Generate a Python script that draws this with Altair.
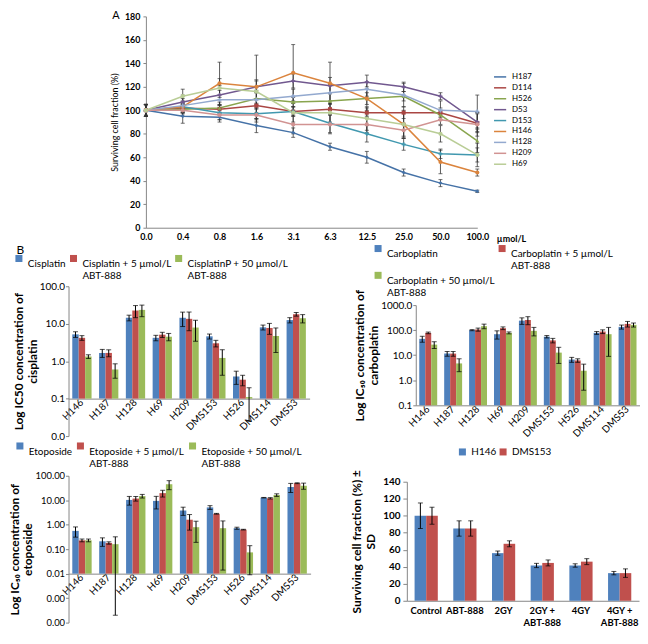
import math
import altair as alt
import pandas as pd

FONT = "Lato"
BLUE, RED, GREEN = "#4F81BD", "#C0504D", "#9BBB59"

# ---------------- Panel A data ----------------
conc = ["0.0", "0.4", "0.8", "1.6", "3.1", "6.3", "12.5", "25.0", "50.0", "100.0"]
series_a = ["H187", "D114", "H526", "D53", "D153", "H146", "H128", "H209", "H69"]
colors_a = ["#4572A7", "#AA4643", "#89A54E", "#71588F", "#4198AF",
            "#DB843D", "#93A9CF", "#D19392", "#B9CD96"]
shapes_a = ["diamond", "square", "triangle-up", "cross", "cross",
            "circle", "cross", "circle", "circle"]
sizes_a = [16, 18, 18, 16, 16, 18, 16, 0, 0]

val_H187 = [100, 95, 94, 87, 81, 69, 60, 47, 38, 31]
val_D114 = [100, 102, 101, 104, 99, 101, 98, 98, 98, 89]
val_H526 = [100, 101, 102, 110, 107, 108, 110, 112, 96, 74]
val_D53 = [100, 107, 113, 120, 125, 121, 124, 120, 112, 90]
val_D153 = [100, 103, 98, 97, 99, 89, 80, 71, 63, 62]
val_H146 = [100, 103, 123, 120, 132, 123, 110, 88, 56, 47]
val_H128 = [100, 104, 109, 109, 112, 115, 118, 113, 100, 99]
val_H209 = [100, 100, 96, 96, 88, 88, 88, 83, 92, 88]
val_H69 = [100, 112, 119, 116, 98, 98, 93, 88, 80, 62]

err_H187 = [4, 6, 2, 6, 4, 3, 5, 3, 3, 1]
err_D114 = [5, 4, 3, 6, 4, 5, 4, 5, 4, 8]
err_H526 = [5, 4, 5, 5, 4, 7, 5, 4, 4, 10]
err_D53 = [5, 6, 8, 5, 6, 7, 6, 4, 3, 8]
err_D153 = [5, 4, 6, 5, 4, 8, 7, 5, 4, 6]
err_H146 = [5, 5, 18, 27, 24, 18, 10, 12, 10, 3]
err_H128 = [5, 6, 8, 8, 6, 7, 6, 10, 8, 14]
err_H209 = [5, 5, 6, 6, 8, 8, 7, 6, 4, 10]
err_H69 = [5, 6, 8, 10, 8, 8, 10, 10, 7, 10]

vals_a = [val_H187, val_D114, val_H526, val_D53, val_D153, val_H146, val_H128, val_H209, val_H69]
errs_a = [err_H187, err_D114, err_H526, err_D53, err_D153, err_H146, err_H128, err_H209, err_H69]

# ---------------- Panel B data ----------------
cell_lines = ["H146", "H187", "H128", "H69", "H209", "DMS153", "H526", "DMS114", "DMS53"]

cis_treat = ["Cisplatin", "Cisplatin + 5 µmol/L|ABT-888", "CisplatinP + 50 µmol/L|ABT-888"]
cis_v0 = [5.2, 1.66, 14.4, 4.2, 14.4, 4.6, 0.39, 8.0, 12.5]
cis_v5 = [4.2, 1.66, 22.5, 5.1, 13.5, 3.0, 0.32, 7.7, 17.9]
cis_v50 = [1.33, 0.6, 23.4, 4.5, 7.9, 1.22, 0.11, 4.7, 14.0]
cis_e0 = [0.9, 0.4, 2.5, 0.7, 6, 0.7, 0.15, 1.2, 2]
cis_e5 = [0.6, 0.35, 8, 0.8, 7, 0.6, 0.1, 2.5, 2]
cis_e50 = [0.15, 0.25, 8, 1, 4.5, 0.8, 0.085, 3, 3.5]

carbo_treat = ["Carboplatin", "Carboplatin + 5 µmol/L|ABT-888", "Carboplatin + 50 µmol/L|ABT-888"]
carbo_v0 = [45, 11.6, 100, 69, 240, 55, 6.7, 78, 135]
carbo_v5 = [78, 11.6, 106, 120, 255, 39, 6.2, 88, 178]
carbo_v50 = [26.5, 4.7, 144, 78, 94, 12.7, 2.4, 69, 163]
carbo_e0 = [12, 2.5, 5, 25, 70, 6, 1.5, 10, 25]
carbo_e5 = [6, 2.5, 15, 15, 90, 8, 1, 15, 45]
carbo_e50 = [8, 2.5, 30, 7, 35, 8, 2, 60, 30]

eto_treat = ["Etoposide", "Etoposide + 5 µmol/L|ABT-888", "Etoposide + 50 µmol/L|ABT-888"]
eto_v0 = [0.56, 0.21, 10.3, 9.4, 3.8, 5.1, 0.72, 12.7, 34.7]
eto_v5 = [0.23, 0.18, 11.7, 19.5, 1.6, 2.8, 0.63, 12.0, 49.7]
eto_v50 = [0.23, 0.16, 14.8, 45, 0.79, 0.72, 0.074, 16.3, 39]
eto_e0 = [0.25, 0.08, 4, 5, 1.4, 0.9, 0.07, 0.3, 14]
eto_e5 = [0.03, 0.02, 2.5, 6, 1, 0.1, 0.02, 0.8, 2]
eto_e50 = [0.03, 0.1598, 2.5, 18, 0.6, 0.706, 0.065, 2, 11]

rad_cats = ["Control", "ABT-888", "2GY", "2GY + ABT-888", "4GY", "4GY + ABT-888"]
rad_lines = ["H146", "DMS153"]
rad_h146 = [100, 85, 56, 41.5, 41.5, 32.5]
rad_dms153 = [100, 85, 67, 44.5, 46, 32.5]
rad_e_h146 = [15, 9, 2.5, 2.5, 2, 2]
rad_e_dms153 = [10, 9, 3.5, 3.5, 3.5, 5]

# legend square drawn level with the first line of a two-line label
SYM_UP = "M-1,-2.7L1,-2.7L1,-0.7L-1,-0.7Z"
TWO_LINE = "[split(datum.label, '|')[0], length(split(datum.label, '|')) > 1 ? split(datum.label, '|')[1] : '']"


def spacer(w, h):
    return alt.Chart(pd.DataFrame({"s": [0]})).mark_point(opacity=0).encode(
        x=alt.X("s:Q", axis=None), y=alt.Y("s:Q", axis=None)
    ).properties(width=w, height=h)


# ---------------- Panel A chart ----------------
rows = []
for s, vs, es in zip(series_a, vals_a, errs_a):
    for i, (c, v, e) in enumerate(zip(conc, vs, es)):
        rows.append(dict(series=s, marker=s, conc=c, idx=i, value=v, lo=v - e, hi=v + e))
df_a = pd.DataFrame(rows)

xa_axis = alt.Axis(title="µmol/L", titleX=368, titleY=14, titleAlign="center",
                   titleBaseline="alphabetic", titleFontSize=9, titleFontWeight="bold",
                   labelAngle=0, labelFontSize=9, labelFontWeight="bold", ticks=False,
                   labelPadding=5, domainColor="#868686")
xa = alt.X("conc:N", sort=conc, scale=alt.Scale(type="point", padding=0), axis=xa_axis)
ya_scale = alt.Scale(domain=[0, 180], nice=False)
ya_axis = alt.Axis(title="Surviving cell fraction (%)", values=list(range(0, 181, 20)),
                   labelFontSize=9, labelFontWeight="bold", titleFontSize=9,
                   titleFontWeight="normal", tickSize=3, labelPadding=3, titlePadding=5,
                   grid=False, domainColor="#868686", tickColor="#868686")

base_a = alt.Chart(df_a)
lines_a = base_a.mark_line(strokeWidth=1.5).encode(
    x=xa,
    y=alt.Y("value:Q", scale=ya_scale, axis=ya_axis),
    color=alt.Color("series:N", sort=series_a,
                    scale=alt.Scale(domain=series_a, range=colors_a),
                    legend=alt.Legend(title=None, orient="none", legendX=350, legendY=54,
                                      symbolType="stroke", symbolSize=150, padding=0,
                                      symbolStrokeWidth=1.5, labelFontSize=8,
                                      rowPadding=0, labelOffset=5)),
    order=alt.Order("idx:Q"),
)
err_a = base_a.mark_rule(color="#333333", strokeWidth=0.8).encode(
    x=xa, y=alt.Y("lo:Q", scale=ya_scale, axis=ya_axis), y2="hi:Q")
caplo_a = base_a.mark_tick(orient="horizontal", size=4, thickness=1, color="#333333").encode(
    x=xa, y=alt.Y("lo:Q", scale=ya_scale, axis=ya_axis))
caphi_a = base_a.mark_tick(orient="horizontal", size=4, thickness=1, color="#333333").encode(
    x=xa, y=alt.Y("hi:Q", scale=ya_scale, axis=ya_axis))
pts_a = base_a.mark_point(filled=True, opacity=1).encode(
    x=xa,
    y=alt.Y("value:Q", scale=ya_scale, axis=ya_axis),
    fill=alt.Fill("marker:N", scale=alt.Scale(domain=series_a, range=colors_a), legend=None),
    shape=alt.Shape("marker:N", scale=alt.Scale(domain=series_a, range=shapes_a), legend=None),
    size=alt.Size("marker:N", scale=alt.Scale(domain=series_a, range=sizes_a), legend=None),
)
label_df = pd.DataFrame({"panel": ["A"], "conc": ["0.0"], "value": [180]})
panel_a_label = alt.Chart(label_df).mark_text(
    fontSize=11, dx=-34, dy=0, align="left", baseline="middle", color="black"
).encode(text="panel:N", x=xa, y=alt.Y("value:Q", scale=ya_scale, axis=ya_axis))
chart_a = alt.layer(err_a, caplo_a, caphi_a, lines_a, pts_a, panel_a_label).properties(
    width=334, height=213)
row1 = alt.hconcat(spacer(42, 1), chart_a, spacing=0).resolve_scale(color="independent")


# ---------------- Panel B helpers ----------------
def log_bars(treats, vals, errs, ytitle, domain, tickvals, fmt, base, width, height,
             lx, ly, cols, colpad, ylabsize, panel=None):
    rws = []
    for t, vs, es in zip(treats, vals, errs):
        for c, v, e in zip(cell_lines, vs, es):
            rws.append(dict(line=c, treat=t, value=v, lo=max(v - e, domain[0]), hi=v + e))
    df = pd.DataFrame(rws)
    span = math.log10(domain[1]) - math.log10(domain[0])
    off = height * (math.log10(base) - math.log10(domain[0])) / span
    xaxis = alt.Axis(title=None, labelAngle=-45, labelAlign="right", labelBaseline="middle",
                     offset=-off, ticks=False, labelFontSize=10, labelPadding=2,
                     domainColor="#868686")
    xenc = alt.X("line:N", sort=cell_lines,
                 scale=alt.Scale(paddingInner=0.28, paddingOuter=0.14), axis=xaxis)
    xoff = alt.XOffset("treat:N", sort=treats, scale=alt.Scale(domain=treats))
    yscale = alt.Scale(type="log", domain=domain, nice=False)
    yaxis = alt.Axis(title=ytitle, values=tickvals, format=fmt, grid=False,
                     labelFontSize=ylabsize, titleFontSize=12, titleFontWeight="bold",
                     tickSize=3, labelPadding=1, titlePadding=0,
                     domainColor="#868686", tickColor="#868686")
    leg = alt.Legend(title=None, orient="none", legendX=lx, legendY=ly, direction="horizontal",
                     columns=cols, symbolType=SYM_UP, symbolSize=50, symbolStrokeWidth=0,
                     labelFontSize=10, labelExpr=TWO_LINE, columnPadding=colpad,
                     rowPadding=0, labelLimit=300, labelOffset=4, padding=0)
    b = alt.Chart(df)
    bars = b.mark_bar().encode(
        x=xenc, xOffset=xoff,
        y=alt.Y("value:Q", scale=yscale, axis=yaxis), y2=alt.datum(base),
        color=alt.Color("treat:N", sort=treats,
                        scale=alt.Scale(domain=treats, range=[BLUE, RED, GREEN]), legend=leg),
    )
    rule = b.mark_rule(color="black", strokeWidth=1).encode(
        x=xenc, xOffset=xoff, y=alt.Y("lo:Q", scale=yscale, axis=yaxis), y2="hi:Q")
    clo = b.mark_tick(orient="horizontal", size=5, thickness=1, color="black").encode(
        x=xenc, xOffset=xoff, y=alt.Y("lo:Q", scale=yscale, axis=yaxis))
    chi = b.mark_tick(orient="horizontal", size=5, thickness=1, color="black").encode(
        x=xenc, xOffset=xoff, y=alt.Y("hi:Q", scale=yscale, axis=yaxis))
    layers = [bars, rule, clo, chi]
    if panel:
        pdf = pd.DataFrame({"panel": [panel], "line": [cell_lines[0]], "value": [domain[1]]})
        layers.append(alt.Chart(pdf).mark_text(
            fontSize=12, dx=-66, dy=-37, align="left", baseline="middle", color="black"
        ).encode(text="panel:N", x=xenc, y=alt.Y("value:Q", scale=yscale, axis=yaxis)))
    return alt.layer(*layers).properties(width=width, height=height)


cis = log_bars(cis_treat, [cis_v0, cis_v5, cis_v50], [cis_e0, cis_e5, cis_e50],
               ["Log IC50 concentration of", "cisplatin"], [0.01, 100],
               [0.01, 0.1, 1, 10, 100], ".1f", 0.1, 243, 151, -55, -27, 3, 2, 10, panel="B")
carbo = log_bars(carbo_treat, [carbo_v0, carbo_v5, carbo_v50], [carbo_e0, carbo_e5, carbo_e50],
                 ["Log IC₅₀ concentration of", "carboplatin"], [0.1, 1000],
                 [0.1, 1, 10, 100, 1000], ".1f", 0.1, 226, 101, -43, -56, 2, 2, 10)
eto = log_bars(eto_treat, [eto_v0, eto_v5, eto_v50], [eto_e0, eto_e5, eto_e50],
               ["Log IC₅₀ concentration of", "etoposide"], [0.0001, 100],
               [0.0001, 0.001, 0.01, 0.1, 1, 10, 100], ".2f", 0.01, 244, 148, -54, -29, 3, 3, 9.5)

# ---------------- Radiation chart ----------------
rr = []
for cell, vs, es in [("H146", rad_h146, rad_e_h146), ("DMS153", rad_dms153, rad_e_dms153)]:
    for c, v, e in zip(rad_cats, vs, es):
        rr.append(dict(cond=c, cell=cell, value=v, lo=v - e, hi=v + e))
df_r = pd.DataFrame(rr)
xr_axis = alt.Axis(title=None, labelAngle=0, labelFontSize=9.5, labelFontWeight="bold",
                   ticks=False, labelPadding=5, domainColor="#868686",
                   labelExpr="indexof(datum.label, '+') > 0 ? [slice(datum.label, 0, indexof(datum.label, '+') + 1), slice(datum.label, indexof(datum.label, '+') + 2)] : datum.label")
xr = alt.X("cond:N", sort=rad_cats, scale=alt.Scale(paddingInner=0.4, paddingOuter=0.2),
           axis=xr_axis)
xro = alt.XOffset("cell:N", sort=rad_lines, scale=alt.Scale(domain=rad_lines))
yr_scale = alt.Scale(domain=[0, 140], nice=False)
yr_axis = alt.Axis(title=["Surviving cell fraction (%) ±", "SD"], values=list(range(0, 141, 20)),
                   grid=False, labelFontSize=10, labelFontWeight="bold", titleFontSize=12,
                   titleFontWeight="bold", tickSize=4, labelPadding=3, titlePadding=5,
                   domainColor="#868686", tickColor="#868686")
br = alt.Chart(df_r)
rad_bars = br.mark_bar().encode(
    x=xr, xOffset=xro, y=alt.Y("value:Q", scale=yr_scale, axis=yr_axis),
    color=alt.Color("cell:N", sort=rad_lines, scale=alt.Scale(domain=rad_lines, range=[BLUE, RED]),
                    legend=alt.Legend(title=None, orient="none", legendX=51, legendY=-35,
                                      direction="horizontal", symbolType="square", padding=0,
                                      symbolSize=50, symbolStrokeWidth=0, labelFontSize=10,
                                      columnPadding=1, labelOffset=4)),
)
rad_rule = br.mark_rule(color="black", strokeWidth=1).encode(
    x=xr, xOffset=xro, y=alt.Y("lo:Q", scale=yr_scale, axis=yr_axis), y2="hi:Q")
rad_clo = br.mark_tick(orient="horizontal", size=5, thickness=1, color="black").encode(
    x=xr, xOffset=xro, y=alt.Y("lo:Q", scale=yr_scale, axis=yr_axis))
rad_chi = br.mark_tick(orient="horizontal", size=5, thickness=1, color="black").encode(
    x=xr, xOffset=xro, y=alt.Y("hi:Q", scale=yr_scale, axis=yr_axis))
rad = alt.layer(rad_bars, rad_rule, rad_clo, rad_chi).properties(width=234, height=120)

carbo_col = alt.vconcat(spacer(226, 19), carbo, spacing=0, bounds="flush").resolve_scale(
    color="independent", xOffset="independent")
rad_col = alt.vconcat(spacer(234, 6), rad, spacing=0, bounds="flush").resolve_scale(
    color="independent", xOffset="independent")

row2 = alt.hconcat(cis, carbo_col, spacing=44).resolve_scale(color="independent", xOffset="independent")
row3 = alt.hconcat(eto, rad_col, spacing=40).resolve_scale(color="independent", xOffset="independent")
lower = alt.vconcat(row2, row3, spacing=6).resolve_scale(color="independent", xOffset="independent")

chart = alt.vconcat(row1, lower, spacing=0).resolve_scale(
    color="independent", xOffset="independent"
).properties(padding={"left": 0, "top": 0, "right": 0, "bottom": 0}).configure(
    font=FONT
).configure_view(stroke=None).configure_axis(
    labelFont=FONT, titleFont=FONT, labelColor="black", titleColor="black"
).configure_legend(labelFont=FONT, labelColor="black").configure_title(font=FONT, color="black")

chart.save("out.html", embed_options={"renderer": "svg", "actions": False})
